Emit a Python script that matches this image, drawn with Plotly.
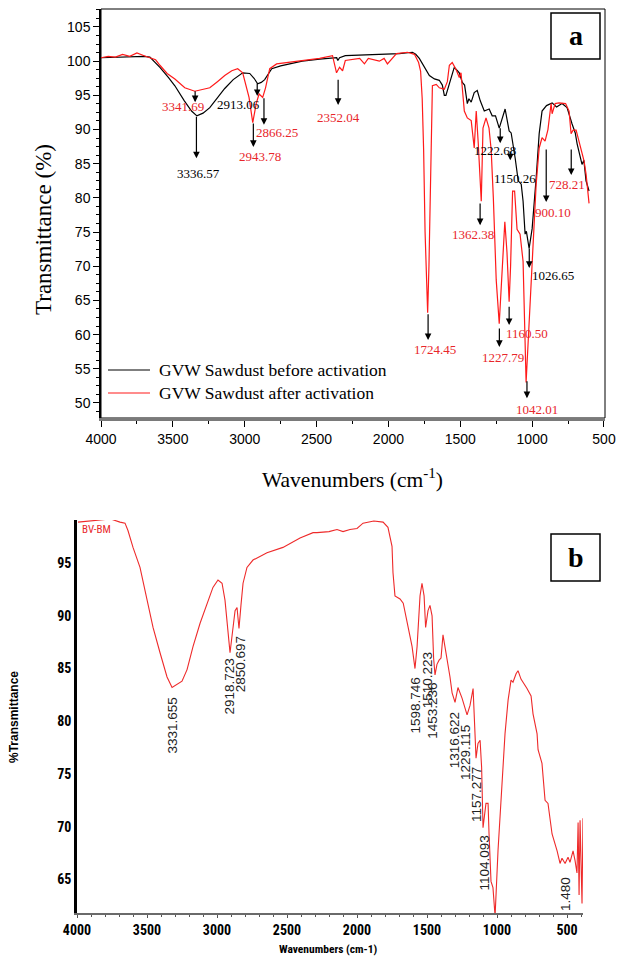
import plotly.graph_objects as go

# ---------------- Panel a data ----------------
wn_before = [4000, 3900, 3800, 3700, 3660, 3590, 3530, 3486, 3420, 3370, 3333, 3290, 3243, 3190, 3139,
             3080, 3014, 2965, 2935, 2910, 2885, 2861, 2812, 2750, 2688, 2600, 2479, 2400, 2360, 2352,
             2340, 2300, 2200, 2100, 2000, 1924, 1833, 1810, 1785, 1750, 1715, 1680, 1646, 1625, 1611,
             1600, 1562, 1542, 1520, 1507, 1486, 1470, 1451, 1440, 1424, 1403, 1382, 1361, 1333, 1299,
             1278, 1255, 1229, 1188, 1160, 1146, 1118, 1097, 1076, 1063, 1049, 1040, 1021, 1000, 972,
             951, 931, 900, 861, 830, 792, 757, 722, 700, 687, 653, 640, 625, 604]
t_before = [100.5, 100.6, 100.7, 100.7, 100.6, 99.1, 97.6, 96.4, 94.2, 92.7, 92.0, 92.4, 93.2, 94.6, 96.0,
            97.3, 98.3, 98.2, 97.5, 96.7, 96.9, 97.3, 98.9, 99.3, 99.6, 100.0, 100.3, 100.5, 100.5, 100.1,
            100.5, 100.8, 100.9, 101.0, 101.0, 101.1, 101.3, 101.0, 100.4, 99.1, 97.9, 97.4, 97.2, 96.5, 95.0,
            95.0, 97.6, 99.1, 98.6, 98.3, 96.9, 96.5, 93.8, 94.5, 94.0, 95.4, 95.7, 94.2, 92.7, 93.0,
            92.0, 92.0, 90.2, 93.0, 89.8, 89.5, 85.8, 82.5, 82.0, 79.5, 74.7, 75.1, 72.6, 75.5, 82.9,
            89.4, 92.7, 93.5, 93.9, 93.3, 93.8, 93.2, 90.8, 89.5, 87.9, 84.9, 85.5, 82.5, 81.0]

wn_after = [4000, 3950, 3900, 3850, 3800, 3750, 3700, 3660, 3620, 3590, 3540, 3486, 3417, 3347, 3300,
            3243, 3190, 3139, 3090, 3049, 3014, 2990, 2970, 2944, 2920, 2900, 2875, 2855, 2826, 2778,
            2700, 2618, 2479, 2389, 2361, 2340, 2319, 2300, 2200, 2167, 2140, 2063, 2030, 2007, 1980,
            1944, 1868, 1819, 1790, 1776, 1765, 1755, 1745, 1735, 1727, 1718, 1708, 1700, 1694, 1667,
            1646, 1611, 1590, 1576, 1556, 1530, 1507, 1495, 1472, 1451, 1424, 1403, 1389, 1375, 1354,
            1342, 1321, 1300, 1285, 1270, 1250, 1229, 1212, 1190, 1175, 1160, 1150, 1136, 1122, 1105,
            1084, 1063, 1042, 1021, 1007, 993, 972, 951, 931, 910, 890, 868, 861, 840, 813,
            767, 743, 729, 715, 694, 660, 639, 625, 604]
t_after = [100.5, 100.7, 100.6, 101.0, 100.7, 101.2, 100.8, 100.5, 100.2, 99.4, 98.2, 97.4, 96.1, 95.6, 95.8,
           96.1, 97.0, 97.9, 98.6, 98.9, 98.3, 96.5, 94.7, 91.0, 93.8, 95.2, 94.7, 96.1, 98.9, 99.6,
           99.8, 100.0, 100.4, 100.8, 98.3, 99.1, 98.6, 100.1, 100.4, 99.6, 100.4, 100.0, 100.4, 99.6, 100.3,
           101.1, 101.3, 101.0, 99.8, 98.5, 94.5, 87.0, 75.0, 66.0, 63.2, 70.0, 82.0, 90.0, 96.4, 96.6,
           96.1, 95.9, 97.0, 99.4, 99.8, 98.8, 97.6, 98.3, 92.7, 91.7, 91.3, 87.3, 92.7, 88.0, 79.5,
           90.2, 91.7, 90.2, 87.0, 80.0, 68.0, 61.6, 68.0, 76.5, 72.0, 64.8, 70.0, 81.0, 81.0, 75.4,
           74.7, 70.7, 53.0, 62.3, 67.3, 74.7, 82.0, 87.3, 88.8, 88.3, 90.0, 93.8, 92.3, 93.8, 93.9,
           93.8, 92.7, 89.4, 89.9, 89.9, 87.3, 85.4, 83.5, 79.2]

# peak labels: text, colour key, label position (wn, T), arrow (wn, T tail, T head)
peaks_a_text = ["3341.69", "3336.57", "2913.06", "2943.78", "2866.25", "2352.04", "1222.68", "1150.26",
                "728.21", "900.10", "1362.38", "1026.65", "1724.45", "1227.79", "1160.50", "1042.01"]
peaks_a_color = ["r", "k", "k", "r", "r", "r", "k", "k", "r", "r", "r", "k", "r", "r", "r", "r"]
peaks_a_lab_wn = [3429, 3325, 3040, 2894, 2775, 2344, 1258, 1119, 757, 855, 1411, 855, 1676, 1203, 1036, 966]
peaks_a_lab_t = [93.3, 83.6, 93.7, 86.1, 89.5, 91.8, 86.9, 82.9, 81.9, 77.9, 74.7, 68.6, 57.75, 56.7, 60.1, 49.0]
peaks_a_arr_wn = [3345, 3336, 2913, 2940, 2866, 2350, 1222, 1152, 728, 902, 1362, 1020, 1724, 1228, 1160, 1036]
peaks_a_arr_tail = [95.8, 92.1, 96.95, 91.1, 94.8, 97.5, 90.4, 87.0, 87.3, 87.3, 79.4, 72.8, 63.2, 61.1, 64.3, 53.4]
peaks_a_arr_head = [94.0, 85.8, 94.9, 87.45, 90.7, 93.6, 88.0, 85.5, 83.35, 79.4, 76.0, 69.75, 59.2, 58.2, 61.4, 50.7]

legend_names = ["GVW Sawdust before activation", "GVW Sawdust after activation"]

# ---------------- Panel b data ----------------
wn_b = [3993, 3836, 3760, 3693, 3657, 3636, 3600, 3550, 3500, 3457, 3407, 3357, 3321, 3286, 3250,
        3214, 3171, 3121, 3071, 3029, 2993, 2964, 2943, 2921, 2907, 2890, 2871, 2857, 2843, 2829,
        2814, 2786, 2743, 2643, 2529, 2407, 2314, 2286, 2200, 2143, 2100, 2050, 2000, 1957, 1880,
        1814, 1779, 1750, 1743, 1729, 1693, 1670, 1643, 1607, 1586, 1571, 1550, 1536, 1521, 1510,
        1493, 1479, 1464, 1453, 1443, 1429, 1414, 1400, 1386, 1371, 1357, 1336, 1321, 1300, 1279,
        1250, 1214, 1193, 1171, 1157, 1150, 1136, 1121, 1110, 1100, 1079, 1064, 1057, 1043, 1029,
        1014, 993, 964, 943, 921, 900, 886, 864, 850, 829, 786, 757, 743, 714, 707,
        679, 657, 636, 607, 571, 550, 536, 514, 493, 479, 457, 443, 429, 421, 414,
        407, 400, 393, 386]
t_b = [98.9, 99.1, 99.2, 98.9, 98.8, 98.1, 96.5, 94.6, 91.5, 88.9, 86.5, 84.2, 83.2, 83.5, 83.8,
       84.9, 87.1, 89.3, 91.2, 92.7, 93.4, 93.1, 91.5, 88.4, 86.5, 88.4, 90.5, 90.8, 88.8, 91.0,
       93.1, 94.6, 95.3, 96.0, 96.5, 97.4, 97.9, 97.9, 98.0, 98.2, 98.0, 98.2, 98.3, 98.8, 99.0,
       98.9, 98.4, 96.6, 94.1, 91.9, 91.6, 91.2, 89.3, 87.1, 85.0, 87.1, 91.9, 93.1, 91.9, 88.9,
       90.5, 91.0, 90.0, 86.0, 84.4, 85.4, 85.8, 86.0, 88.2, 87.1, 86.0, 84.2, 82.7, 81.8, 83.2,
       82.2, 80.6, 81.5, 83.1, 77.5, 76.5, 77.9, 78.2, 75.6, 69.9, 72.2, 72.2, 69.3, 64.8, 64.2,
       61.5, 67.7, 74.0, 78.8, 82.0, 83.9, 83.7, 84.5, 84.8, 84.0, 83.1, 82.4, 80.7, 78.8, 77.3,
       76.0, 72.5, 72.2, 69.3, 67.7, 66.5, 67.0, 66.5, 67.1, 66.6, 67.7, 66.8, 65.6, 70.4, 63.5,
       70.6, 66.0, 62.7, 70.8]

peaks_b_text = ["3331.655", "2918.723", "2850.697", "1598.746", "1510.223", "1453.236", "1316.622",
                "1229.115", "1157.277", "1104.093", "1.480"]
peaks_b_wn = [3321, 2914, 2836, 1586, 1500, 1457, 1307, 1221, 1143, 1093, 514]
peaks_b_t = [79.6, 83.3, 85.4, 81.5, 83.9, 81.0, 78.2, 77.0, 73.0, 66.5, 63.6]

x_ticks = [4000, 3500, 3000, 2500, 2000, 1500, 1000, 500]

RED = "#ff1a1a"
RED_TXT = "#e8262b"
SERIF = "Liberation Serif, Times New Roman, serif"
SANS = "Liberation Sans, Arial, sans-serif"
NARROW = "Liberation Sans Narrow, Arial Narrow, Roboto Condensed, DejaVu Sans Condensed, sans-serif"

W, H = 618, 960
def px(x):
    return x / W
def py(y):
    return 1 - y / H

fig = go.Figure()
fig.add_trace(go.Scatter(x=wn_before, y=t_before, mode="lines", name=legend_names[0],
                         line=dict(color="black", width=1.2), xaxis="x", yaxis="y", showlegend=False))
fig.add_trace(go.Scatter(x=wn_after, y=t_after, mode="lines", name=legend_names[1],
                         line=dict(color=RED, width=1.2), xaxis="x", yaxis="y", showlegend=False))
fig.add_trace(go.Scatter(x=wn_b, y=t_b, mode="lines", name="BV-BM",
                         line=dict(color="#ee2a2a", width=1.1), xaxis="x2", yaxis="y2", showlegend=False))

annotations = []
shapes = []

# panel a peak labels and arrows
for i, txt in enumerate(peaks_a_text):
    col = RED_TXT if peaks_a_color[i] == "r" else "black"
    annotations.append(dict(x=peaks_a_lab_wn[i], y=peaks_a_lab_t[i], xref="x", yref="y", text=txt,
                            xanchor="center", yanchor="middle",
                            showarrow=False, font=dict(family=SERIF, size=13, color=col)))
    annotations.append(dict(x=peaks_a_arr_wn[i], y=peaks_a_arr_head[i], xref="x", yref="y",
                            ax=peaks_a_arr_wn[i], ay=peaks_a_arr_tail[i], axref="x", ayref="y",
                            text="", showarrow=True, arrowhead=2, arrowsize=1.1, arrowwidth=1.2,
                            arrowcolor="black", standoff=0, startstandoff=0))

# panel b peak labels (vertical)
for i, txt in enumerate(peaks_b_text):
    annotations.append(dict(x=peaks_b_wn[i], y=peaks_b_t[i], xref="x2", yref="y2", text=txt,
                            textangle=-90, showarrow=False, xanchor="center", yanchor="middle",
                            font=dict(family=SANS, size=13.5, color="#222")))

def pa(x, y, text, font, angle=0, xanchor="center"):
    return dict(x=px(x), y=py(y), xref="paper", yref="paper", text=text, textangle=angle,
                xanchor=xanchor, yanchor="middle", showarrow=False, font=font)

annotations += [
    pa(43, 230, "Transmittance (%)", dict(family=SERIF, size=23, color="black"), angle=-90),
    pa(352, 478, "Wavenumbers (cm<sup>-1</sup>)", dict(family=SERIF, size=21.5, color="black")),
    pa(14, 717, "<b>%Transmittance</b>", dict(family=SANS, size=12, color="black"), angle=-90),
    pa(329, 949, "<b>Wavenumbers (cm-1)</b>", dict(family=NARROW, size=11.5, color="black")),
    pa(80, 529, "BV-BM", dict(family=NARROW, size=11, color=RED_TXT), xanchor="left"),
    pa(575.5, 36, "<b>a</b>", dict(family=SERIF, size=28, color="black")),
    pa(575.5, 557, "<b>b</b>", dict(family=SERIF, size=28, color="black")),
]

# legend (drawn as line samples + labels)
for i, (col, yy) in enumerate([("black", 370), (RED, 393)]):
    shapes.append(dict(type="line", xref="paper", yref="paper", x0=px(108), x1=px(150),
                       y0=py(yy), y1=py(yy), line=dict(color=col, width=1.2)))
    annotations.append(pa(157, yy, legend_names[i], dict(family=SERIF, size=17.5, color="black"),
                          xanchor="left"))

# frames
shapes += [
    dict(type="rect", xref="paper", yref="paper", x0=px(101), x1=px(605), y0=py(418), y1=py(9),
         line=dict(color="black", width=1), layer="below"),
    dict(type="rect", xref="paper", yref="paper", x0=px(551), x1=px(600), y0=py(59), y1=py(13),
         line=dict(color="black", width=1.5), fillcolor="white"),
    dict(type="rect", xref="paper", yref="paper", x0=px(551), x1=px(600), y0=py(581), y1=py(534),
         line=dict(color="black", width=1.5), fillcolor="white"),
]

fig.update_layout(
    width=W, height=H, margin=dict(l=0, r=0, t=0, b=0, autoexpand=False),
    paper_bgcolor="white", plot_bgcolor="white", showlegend=False,
    annotations=annotations, shapes=shapes,
    xaxis=dict(domain=[px(101), px(605)], anchor="y", range=[4000, 493], tickvals=x_ticks,
               automargin=False,
               ticks="outside", ticklen=6, tickwidth=1.2, tickcolor="black",
               minor=dict(dtick=250, tick0=0, ticks="outside", ticklen=3, tickwidth=1, tickcolor="black"),
               showline=True, linecolor="#7a7a7a", linewidth=3, showgrid=False, zeroline=False,
               tickfont=dict(family=SANS, size=14, color="black")),
    yaxis=dict(domain=[py(418), py(9)], anchor="x", range=[47.8, 107.63], tick0=50, dtick=5,
               automargin=False,
               ticks="outside", ticklen=6, tickwidth=1.2, tickcolor="black",
               minor=dict(dtick=1.25, tick0=50, ticks="outside", ticklen=3, tickwidth=1, tickcolor="black"),
               showline=True, linecolor="black", linewidth=1.5, showgrid=False, zeroline=False,
               tickfont=dict(family=SANS, size=14, color="black")),
    xaxis2=dict(domain=[px(77), px(583)], anchor="y2", range=[4000, 386], tickvals=x_ticks,
                automargin=False,
                ticks="outside", ticklen=3, tickwidth=1, tickcolor="#555",
                minor=dict(dtick=100, tick0=0, ticks="outside", ticklen=2, tickwidth=1, tickcolor="#555"),
                showline=True, linecolor="#6a6a6a", linewidth=2, showgrid=False, zeroline=False,
                tickfont=dict(family=NARROW, size=14, color="black", weight="bold")),
    yaxis2=dict(domain=[py(913), py(520)], anchor="x2", range=[61.8, 99.1], tick0=65, dtick=5,
                automargin=False,
                ticks="", showline=True, linecolor="black", linewidth=2.5, showgrid=False, zeroline=False,
                tickfont=dict(family=NARROW, size=14, color="black", weight="bold")),
)

fig.write_html("out.html")
